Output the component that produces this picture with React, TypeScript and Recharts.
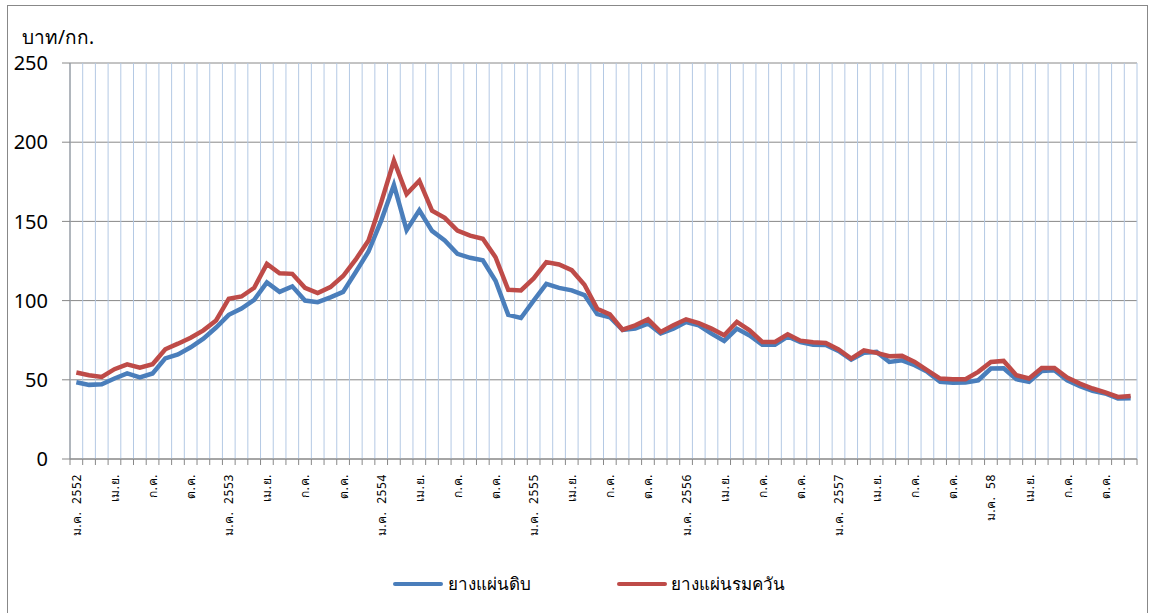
import React from 'react';
import { LineChart, Line, XAxis, YAxis, CartesianGrid } from 'recharts';

const MONTHS = ['ม.ค.', 'ก.พ.', 'มี.ค.', 'เม.ย.', 'พ.ค.', 'มิ.ย.', 'ก.ค.', 'ส.ค.', 'ก.ย.', 'ต.ค.', 'พ.ย.', 'ธ.ค.'];
const YEARS = ['2552', '2553', '2554', '2555', '2556', '2557', '58'];

// ยางแผ่นดิบ (บาท/กก.), monthly ม.ค. 2552 – ธ.ค. 2558
const RAW_SHEET = [
  48.5, 46.8, 47.2, 50.8, 54, 51.5, 54, 63.5, 66, 70.5, 76, 83,
  91, 95, 100.5, 111.5, 105.5, 109, 100, 99, 102, 105.5, 118, 131,
  150.5, 173, 144.5, 157, 144, 138, 129.5, 127, 125.5, 112.5, 91, 89,
  100, 110.5, 108, 106.5, 103.5, 91.5, 89.5, 81.5, 82.3, 85.5, 79.3, 82.3,
  86.5, 84.4, 79.1, 74.5, 82.3, 78, 72.2, 72.2, 77.3, 73.8, 72.2, 72,
  68.2, 62.8, 67, 67.6, 61.3, 62.3, 59.2, 55, 48.7, 48.1, 48.3, 49.7,
  57.1, 57.3, 50.4, 48.7, 55.6, 56, 49.7, 46, 43, 41.4, 38.2, 38.4,
];

// ยางแผ่นรมควัน (บาท/กก.)
const SMOKED_SHEET = [
  54.6, 52.9, 51.8, 56.7, 59.8, 57.7, 59.8, 69.3, 72.8, 76.6, 81.2, 87.5,
  101.2, 102.6, 108.1, 123.2, 117.3, 116.9, 108.1, 104.7, 108.5, 115.5, 126, 138,
  162, 188.3, 167.3, 175.7, 156.8, 152.2, 144.2, 141, 139, 127.4, 106.8, 106.4,
  114, 124.3, 122.8, 119.2, 110, 94.9, 91.3, 81.6, 84.4, 88.2, 80.2, 84.4,
  88.2, 85.8, 82.3, 78.1, 86.5, 81.2, 73.9, 73.9, 78.7, 74.7, 73.7, 73.3,
  69.2, 63.4, 68.6, 67, 64.9, 65.1, 61.3, 56, 50.8, 50.4, 50.4, 55,
  61.3, 61.9, 52.9, 50.8, 57.5, 57.5, 51.4, 47.6, 44.5, 42, 39.2, 39.7,
];

const Y_TICKS = [0, 50, 100, 150, 200, 250];

const BLUE = '#4a7ebb';
const RED = '#be4b48';
const FONT = '"Noto Sans", "DejaVu Sans", sans-serif';

// category labels: year label on ม.ค., month only otherwise
const CATEGORIES = RAW_SHEET.map((_, i) => {
  const m = MONTHS[i % 12];
  return i % 12 === 0 ? `${m}\u00a0\u00a0${YEARS[Math.floor(i / 12)]}` : m;
});

const data = RAW_SHEET.map((v, i) => ({
  pos: i + 0.5,
  label: CATEGORIES[i],
  raw: v,
  smoked: SMOKED_SHEET[i],
}));

const boundaryTicks = data.map((d) => d.pos - 0.5).concat([data.length]);
const labelTicks = data.filter((_, i) => i % 3 === 0).map((d) => d.pos);

const MonthTick = (props: any) => {
  const { x, y, payload } = props;
  const text = CATEGORIES[Math.floor(payload.value)];
  return (
    <text
      x={x}
      y={y}
      transform={`rotate(-90, ${x}, ${y})`}
      textAnchor="end"
      dominantBaseline="central"
      fontSize={12}
      letterSpacing={0.6}
      fontFamily={FONT}
      fill="#000"
    >
      {text}
    </text>
  );
};

export default function App() {
  return (
    <div style={{ position: 'absolute', left: 0, top: 0, width: 1149, height: 613, background: '#fff', overflow: 'hidden' }}>
      <div
        style={{
          position: 'absolute',
          left: 7,
          top: 5,
          width: 1141,
          height: 620,
          border: '1px solid #888',
          boxSizing: 'border-box',
        }}
      />
      <div
        style={{
          position: 'absolute',
          left: 22,
          top: 28,
          fontFamily: FONT,
          fontSize: 19,
          lineHeight: '19px',
          color: '#000',
        }}
      >
        บาท/กก.
      </div>
      <div style={{ position: 'absolute', left: 0, top: 0 }}>
        <LineChart
          width={1149}
          height={613}
          data={data}
          margin={{ top: 63, right: 12, left: 10, bottom: 58 }}
        >
          <CartesianGrid xAxisId="grid" stroke="#888" strokeWidth={1} horizontal={true} vertical={false} />
          <CartesianGrid xAxisId="grid" stroke="#b4c9e4" strokeWidth={1} horizontal={false} vertical={true} />
          <XAxis
            xAxisId="grid"
            dataKey="pos"
            type="number"
            domain={[0, data.length]}
            ticks={boundaryTicks}
            interval={0}
            tickFormatter={() => ''}
            tickSize={6}
            height={6}
            stroke="#888"
            allowDecimals
          />
          <XAxis
            xAxisId="lab"
            dataKey="pos"
            type="number"
            domain={[0, data.length]}
            ticks={labelTicks}
            interval={0}
            tick={<MonthTick />}
            tickLine={false}
            axisLine={false}
            tickSize={0}
            tickMargin={9}
            height={90}
            allowDecimals
          />
          <YAxis
            domain={[0, 250]}
            ticks={Y_TICKS}
            interval={0}
            width={60}
            tickSize={8}
            tickMargin={14}
            stroke="#888"
            tick={{ fontSize: 20, fill: '#000', fontFamily: FONT }}
          />
          <Line
            xAxisId="grid"
            dataKey="raw"
            name="ยางแผ่นดิบ"
            stroke={BLUE}
            strokeWidth={4.5}
            dot={false}
            isAnimationActive={false}
          />
          <Line
            xAxisId="grid"
            dataKey="smoked"
            name="ยางแผ่นรมควัน"
            stroke={RED}
            strokeWidth={4.5}
            dot={false}
            isAnimationActive={false}
          />
        </LineChart>
      </div>
      <div style={{ position: 'absolute', left: 393, top: 570, display: 'flex', alignItems: 'center', fontFamily: FONT, fontSize: 17 }}>
        <span style={{ display: 'inline-block', width: 50, height: 4, background: BLUE, borderRadius: 2, marginRight: 5 }} />
        <span>ยางแผ่นดิบ</span>
      </div>
      <div style={{ position: 'absolute', left: 617, top: 570, display: 'flex', alignItems: 'center', fontFamily: FONT, fontSize: 17 }}>
        <span style={{ display: 'inline-block', width: 50, height: 4, background: RED, borderRadius: 2, marginRight: 4 }} />
        <span>ยางแผ่นรมควัน</span>
      </div>
    </div>
  );
}
